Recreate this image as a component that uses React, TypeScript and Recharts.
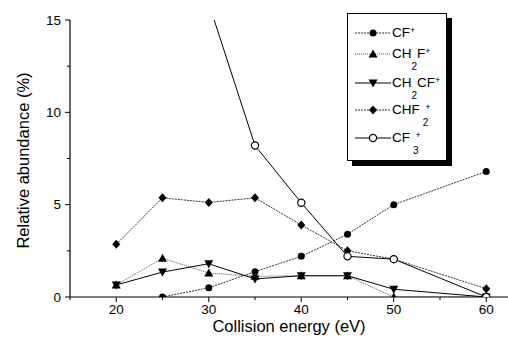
import { LineChart, Line, XAxis, YAxis, Legend } from "recharts";

// collision energies (eV)
const energies = [20, 25, 30, 35, 40, 45, 50, 60];

// relative abundance (%) per ion
const cfPlus = [null, 0, 0.5, 1.37, 2.2, 3.4, 5.0, 6.8];
const ch2fPlus = [0.65, 2.1, 1.3, 1.12, 1.15, 1.15, 0, 0];
const ch2cfPlus = [0.65, 1.35, 1.8, 0.98, 1.15, 1.15, 0.42, 0];
const chf2Plus = [2.85, 5.37, 5.12, 5.37, 3.9, 2.5, 2.05, 0.45];
const cf3Plus = [null, null, 15.9, 8.2, 5.1, 2.2, 2.05, 0];

const xTicks = [15, 20, 25, 30, 35, 40, 45, 50, 55, 60];
const yTicks = [0, 2.5, 5, 7.5, 10, 12.5, 15];

const data = energies.map((e, i) => ({
  energy: e,
  cf: cfPlus[i],
  ch2f: ch2fPlus[i],
  ch2cf: ch2cfPlus[i],
  chf2: chf2Plus[i],
  cf3: cf3Plus[i],
}));

const FONT = "Arial, 'Liberation Sans', sans-serif";

const Marker = ({ shape, cx, cy }: any) => {
  if (shape === "circle") return <circle cx={cx} cy={cy} r={3.5} fill="#000" />;
  if (shape === "open")
    return <circle cx={cx} cy={cy} r={3.6} fill="#fff" stroke="#000" strokeWidth={1.2} />;
  if (shape === "up")
    return <polygon points={`${cx},${cy - 4.5} ${cx - 4.5},${cy + 3.5} ${cx + 4.5},${cy + 3.5}`} fill="#000" />;
  if (shape === "down")
    return <polygon points={`${cx},${cy + 4.5} ${cx - 4.5},${cy - 3.5} ${cx + 4.5},${cy - 3.5}`} fill="#000" />;
  return <polygon points={`${cx},${cy - 4.5} ${cx + 4},${cy} ${cx},${cy + 4.5} ${cx - 4},${cy}`} fill="#000" />;
};

const makeDot = (shape: string) => (props: any) => {
  const { cx, cy, index, value } = props;
  if (cx == null || cy == null || value == null) return <g key={index} />;
  return <Marker key={index} shape={shape} cx={cx} cy={cy} />;
};

const XTick = ({ x, y, payload }: any) => {
  const major = payload.value % 10 === 0;
  return (
    <g transform={`translate(${x},${y})`}>
      <line x1={0} y1={0} x2={0} y2={major ? 5 : 3} stroke="#000" />
      {major && (
        <text x={0} y={17} textAnchor="middle" fontSize={13.5} fill="#000" fontFamily={FONT}>
          {payload.value}
        </text>
      )}
    </g>
  );
};

const YTick = ({ x, y, payload }: any) => {
  const major = payload.value % 5 === 0;
  return (
    <g transform={`translate(${x},${y})`}>
      <line x1={0} y1={0} x2={major ? -5 : -3} y2={0} stroke="#000" />
      {major && (
        <text x={-9} y={4.5} textAnchor="end" fontSize={13.5} fill="#000" fontFamily={FONT}>
          {payload.value}
        </text>
      )}
    </g>
  );
};

const supStyle = { fontSize: 9, verticalAlign: 0, position: "relative" as const, top: -4 };
const subStyle = { fontSize: 10, position: "relative" as const, top: 12 };

const series = [
  { key: "cf", shape: "circle", dash: "2 1", color: "#333", rowY: 19, label: <>CF<sup style={supStyle}>+</sup></> },
  { key: "ch2f", shape: "up", dash: "1 1", color: "#555", rowY: 40, label: <>CH<span style={subStyle}>2</span>F<sup style={supStyle}>+</sup></> },
  { key: "ch2cf", shape: "down", dash: undefined, color: "#000", rowY: 69, label: <>CH<span style={subStyle}>2</span>CF<sup style={supStyle}>+</sup></> },
  { key: "chf2", shape: "diamond", dash: "2 1", color: "#333", rowY: 96, label: <>CHF<span style={{ ...subStyle, marginLeft: 3 }}>2</span><sup style={{ ...supStyle, marginLeft: -3 }}>+</sup></> },
  { key: "cf3", shape: "open", dash: undefined, color: "#000", rowY: 124, label: <>CF<span style={{ ...subStyle, marginLeft: 3 }}>3</span><sup style={{ ...supStyle, marginLeft: -3 }}>+</sup></> },
];

const renderLegend = () => (
  <div
    style={{
      position: "relative",
      width: 100,
      height: 148,
      border: "1px solid #000",
      background: "#fff",
      boxShadow: "5px 5px 0 #000",
      boxSizing: "border-box",
      fontFamily: FONT,
    }}
  >
    {series.map((s) => (
      <div key={s.key}>
        <svg width={36} height={12} style={{ position: "absolute", left: 7, top: s.rowY - 6 }}>
          <line x1={0} y1={6} x2={36} y2={6} stroke={s.color} strokeWidth={1} strokeDasharray={s.dash} />
          <Marker shape={s.shape} cx={18} cy={6} />
        </svg>
        <div
          style={{
            position: "absolute",
            left: 44,
            top: s.rowY - 8,
            fontSize: 13.5,
            lineHeight: "16px",
            color: "#000",
            whiteSpace: "nowrap",
          }}
        >
          {s.label}
        </div>
      </div>
    ))}
  </div>
);

export default function App() {
  return (
    <div style={{ position: "absolute", left: 0, top: 0, background: "#fff" }}>
      <LineChart
        width={508}
        height={341}
        data={data}
        margin={{ top: 20, right: 0, bottom: 0, left: 0 }}
        style={{ fontFamily: FONT }}
      >
        <XAxis
          type="number"
          dataKey="energy"
          domain={[15, 62.35]}
          ticks={xTicks}
          interval={0}
          height={44}
          tickSize={0}
          tickMargin={0}
          tickLine={false}
          tick={(p: any) => <XTick {...p} />}
          axisLine={{ stroke: "#000", strokeWidth: 1.2 }}
          label={{
            content: ({ viewBox }: any) => (
              <text
                x={viewBox.x + viewBox.width / 2}
                y={viewBox.y + 35}
                textAnchor="middle"
                fontSize={16.5}
                fill="#000"
                fontFamily={FONT}
              >
                Collision energy (eV)
              </text>
            ),
          }}
        />
        <YAxis
          type="number"
          domain={[0, 15]}
          allowDataOverflow
          ticks={yTicks}
          interval={0}
          width={70}
          tickSize={0}
          tickMargin={0}
          tickLine={false}
          tick={(p: any) => <YTick {...p} />}
          axisLine={{ stroke: "#000", strokeWidth: 1.2 }}
          label={{
            content: ({ viewBox }: any) => {
              const cx = 23;
              const cy = viewBox.y + viewBox.height / 2 + 2;
              return (
                <text
                  x={cx}
                  y={cy}
                  transform={`rotate(-90 ${cx} ${cy})`}
                  textAnchor="middle"
                  dominantBaseline="central"
                  fontSize={16.5}
                  fill="#000"
                  fontFamily={FONT}
                >
                  Relative abundance (%)
                </text>
              );
            },
          }}
        />
        <Legend
          layout="vertical"
          align="center"
          verticalAlign="middle"
          content={renderLegend}
          wrapperStyle={{ left: 347, top: 13, width: 100, height: 148 }}
        />
        {series.map((s) => (
          <Line
            key={s.key}
            type="linear"
            dataKey={s.key}
            stroke={s.color}
            strokeWidth={1}
            strokeDasharray={s.dash}
            dot={makeDot(s.shape)}
            activeDot={false}
            isAnimationActive={false}
          />
        ))}
      </LineChart>
    </div>
  );
}
